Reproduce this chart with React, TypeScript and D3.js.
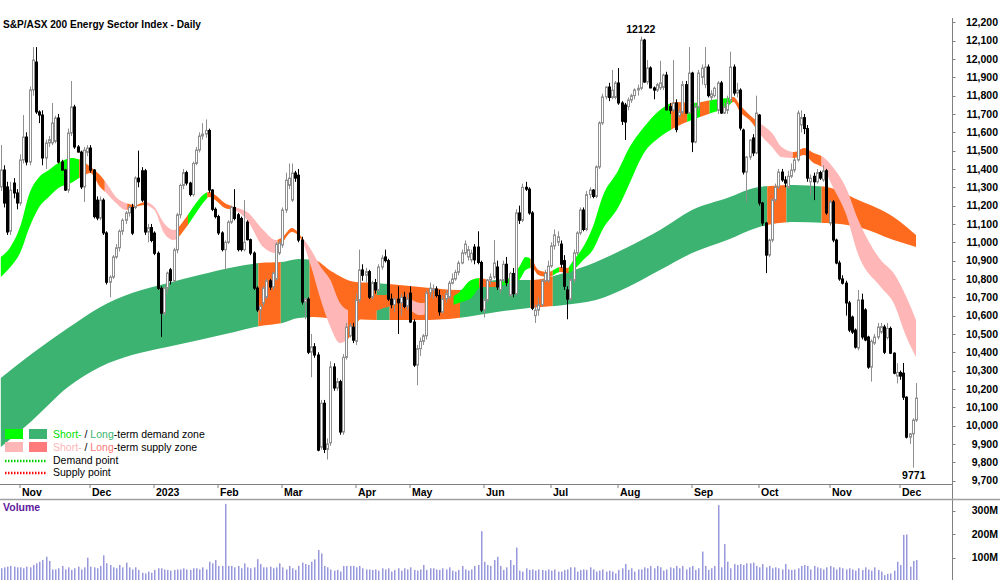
import * as d3 from "d3";
import React from "react";

// daily candles [open, high, low, close], one array per month
const oct22 = [
  [11302, 11531, 11280, 11394], [11394, 11420, 11190, 11214], [11302, 11330, 11040, 11056],
  [11060, 11330, 11040, 11285], [11323, 11350, 11240, 11269], [11269, 11290, 11180, 11214],
];
const nov22 = [
  [11214, 11480, 11200, 11449], [11449, 11694, 11430, 11574], [11574, 11600, 11420, 11438],
  [11438, 11850, 11420, 11831], [11831, 12065, 11800, 11994], [11983, 12065, 11700, 11711],
  [11711, 11720, 11650, 11694], [11694, 11720, 11420, 11460], [11460, 11560, 11400, 11542],
  [11542, 11580, 11520, 11560], [11542, 11760, 11530, 11651], [11550, 11690, 11540, 11678],
  [11678, 11700, 11430, 11438], [11438, 11450, 11390, 11394], [11394, 11400, 11280, 11285],
  [11285, 11620, 11270, 11596], [11596, 11880, 11580, 11738], [11738, 11750, 11510, 11520],
  [11520, 11530, 11490, 11492], [11492, 11500, 11290, 11302], [11302, 11520, 11220, 11503],
  [11490, 11530, 11470, 11514],
];
const dec22 = [
  [11514, 11530, 11380, 11394], [11394, 11400, 11130, 11140], [11230, 11250, 11120, 11132],
  [11132, 11250, 11120, 11230], [11230, 11240, 11040, 11051], [11051, 11060, 10770, 10782],
  [10782, 10820, 10700, 10810], [10810, 10930, 10800, 10920], [10920, 10990, 10910, 10970],
  [10970, 11070, 10950, 11060], [11060, 11130, 11040, 11120], [11120, 11170, 11100, 11160],
  [11160, 11200, 11140, 11190], [11190, 11210, 11040, 11050], [11190, 11360, 11180, 11350],
  [11350, 11500, 11300, 11330], [11390, 11410, 11220, 11230], [11390, 11400, 11040, 11056],
  [11056, 11100, 11000, 11080], [11080, 11100, 11000, 11010],
];
const jan23 = [
  [11050, 11060, 10930, 10940], [10940, 10950, 10740, 10749], [10749, 10760, 10483, 10613],
  [10613, 10760, 10600, 10749], [10749, 10840, 10720, 10832], [10850, 10860, 10770, 10790],
  [10790, 10970, 10780, 10958], [10958, 11160, 10940, 11150], [11150, 11320, 11130, 11310],
  [11310, 11400, 11290, 11380], [11380, 11390, 11310, 11323], [11323, 11330, 11250, 11260],
  [11260, 11440, 11250, 11430], [11430, 11520, 11420, 11503], [11503, 11600, 11490, 11580],
  [11580, 11650, 11560, 11590], [11590, 11670, 11570, 11610], [11610, 11620, 11270, 11285],
  [11285, 11290, 11170, 11180], [11180, 11190, 11130, 11140],
];
const feb23 = [
  [11140, 11150, 11040, 11051], [11051, 11060, 10950, 10960], [10960, 11010, 10850, 11000],
  [11000, 11120, 10990, 11110], [11110, 11200, 11100, 11190], [11190, 11290, 11120, 11130],
  [11150, 11160, 10950, 10960], [11130, 11140, 10950, 10960], [10960, 11230, 10950, 11000],
  [11110, 11120, 11010, 11014], [11014, 11020, 10930, 10941], [10941, 10950, 10740, 10750],
  [10750, 10760, 10620, 10631], [10631, 10660, 10570, 10650], [10668, 10760, 10650, 10750],
  [10700, 10800, 10690, 10790], [10790, 10800, 10740, 10756], [10756, 10840, 10740, 10832],
  [10800, 11000, 10790, 10990], [10941, 11010, 10930, 10996],
];
const mar23 = [
  [10985, 11190, 10970, 11176], [11176, 11380, 11160, 11339], [11310, 11430, 11290, 11350],
  [11230, 11430, 11220, 11378], [11378, 11390, 11330, 11350], [11366, 11400, 11000, 11012],
  [11012, 11030, 10660, 10674], [10674, 10700, 10580, 10690], [10690, 10700, 10390, 10400],
  [10400, 10500, 10264, 10430], [10430, 10450, 10370, 10385], [10385, 10400, 9860, 9866],
  [9882, 10140, 9870, 10122], [10122, 10140, 9850, 9870], [9870, 9930, 9815, 9900],
  [9906, 10350, 9890, 10320], [10320, 10340, 10190, 10205], [10205, 10260, 10190, 10240],
  [10240, 10250, 9950, 9965], [9965, 10390, 9950, 10372], [10372, 10560, 10360, 10537],
  [10490, 10560, 10480, 10545], [10537, 10560, 10450, 10466],
];
const apr23 = [
  [10460, 10720, 10440, 10686], [10686, 10960, 10670, 10849], [10849, 10880, 10790, 10820],
  [10820, 10860, 10780, 10840], [10840, 10850, 10690, 10700], [10700, 10790, 10690, 10780],
  [10780, 10800, 10720, 10740], [10740, 10880, 10730, 10865], [10865, 10930, 10850, 10914],
  [10920, 10960, 10890, 10900], [10900, 10910, 10680, 10690], [10690, 10720, 10640, 10660],
  [10660, 10700, 10620, 10690], [10690, 10760, 10500, 10670], [10670, 10720, 10600, 10700],
  [10700, 10730, 10640, 10650], [10650, 10720, 10630, 10690],
];
const may23 = [
  [10723, 10760, 10560, 10565], [10565, 10580, 10320, 10330], [10330, 10440, 10220, 10420],
  [10420, 10480, 10380, 10460], [10460, 10500, 10440, 10490], [10490, 10740, 10470, 10723],
  [10723, 10780, 10700, 10750], [10740, 10770, 10690, 10745], [10745, 10760, 10700, 10710],
  [10710, 10740, 10600, 10620], [10620, 10710, 10610, 10690], [10690, 10740, 10670, 10720],
  [10700, 10790, 10690, 10777], [10777, 10830, 10770, 10800], [10800, 10850, 10790, 10836],
  [10836, 10900, 10820, 10887], [10887, 10960, 10880, 10942], [10942, 11010, 10930, 10990],
  [10920, 10980, 10900, 10960], [10904, 10960, 10890, 10940], [10974, 10990, 10880, 10904],
  [10974, 11060, 10880, 10890], [10890, 10900, 10620, 10630],
];
const jun23 = [
  [10630, 10700, 10590, 10685], [10685, 10800, 10670, 10794], [10794, 10830, 10770, 10810],
  [10810, 11012, 10800, 10887], [10865, 10900, 10740, 10756], [10740, 10800, 10720, 10794],
  [10794, 10900, 10780, 10880], [10880, 10920, 10760, 10780], [10710, 10840, 10700, 10830],
  [10830, 10860, 10700, 10720], [10720, 11180, 10710, 11160], [11160, 11200, 11100, 11120],
  [11120, 11320, 11110, 11300], [11300, 11330, 11280, 11290], [11290, 11300, 11150, 11160],
  [11160, 11170, 10630, 10640], [10600, 10660, 10560, 10630], [10630, 10700, 10600, 10660],
  [10660, 10800, 10650, 10790], [10790, 10850, 10780, 10830], [10790, 10900, 10780, 10870],
];
const jul23 = [
  [10870, 11000, 10860, 10980], [10980, 11070, 10960, 11040], [11000, 11060, 10980, 11030],
  [10990, 11010, 10860, 10880], [10900, 10930, 10740, 10760], [10740, 10760, 10580, 10690],
  [10690, 10800, 10680, 10794], [10794, 10960, 10780, 10942], [10942, 11060, 10930, 11051],
  [11051, 11190, 11040, 11176], [11176, 11190, 11060, 11070], [11070, 11280, 11060, 11260],
  [11260, 11300, 11240, 11285], [11285, 11290, 11240, 11250], [11250, 11420, 11240, 11411],
  [11411, 11660, 11400, 11651], [11651, 11810, 11640, 11793], [11793, 11850, 11780, 11847],
  [11847, 11870, 11770, 11790], [11790, 11940, 11780, 11830], [11790, 11880, 11780, 11869],
];
const aug23 = [
  [11869, 11950, 11750, 11760], [11760, 11770, 11640, 11660], [11749, 11760, 11558, 11656],
  [11740, 11790, 11720, 11776], [11776, 11810, 11760, 11800], [11800, 11840, 11780, 11831],
  [11831, 11860, 11800, 11840], [11840, 12122, 11830, 12103], [12103, 12110, 11870, 11874],
  [11874, 11994, 11860, 11951], [11951, 11960, 11840, 11842], [11842, 11850, 11780, 11830],
  [11830, 11870, 11820, 11860], [11842, 11990, 11830, 11870], [11845, 11920, 11830, 11912],
  [11912, 11930, 11720, 11722], [11740, 11760, 11700, 11720], [11722, 11994, 11710, 11760],
  [11760, 11780, 11600, 11615], [11690, 11730, 11680, 11711], [11711, 11880, 11700, 11860],
  [11860, 11880, 11700, 11705], [11705, 12065, 11700, 11923],
];
const sep23 = [
  [11923, 11930, 11492, 11547], [11547, 11760, 11540, 11738], [11738, 11940, 11720, 11923],
  [11900, 11970, 11860, 11950], [11860, 12065, 11840, 11956], [11956, 11970, 11790, 11800],
  [11790, 11830, 11770, 11810], [11800, 11850, 11790, 11840], [11720, 11880, 11700, 11869],
  [11869, 11880, 11700, 11705], [11705, 11760, 11700, 11738], [11720, 11800, 11700, 11760],
  [11776, 12040, 11760, 11956], [11956, 11970, 11800, 11814], [11814, 11870, 11790, 11830],
  [11830, 11840, 11610, 11623], [11612, 11620, 11370, 11383], [11383, 11470, 11220, 11465],
  [11465, 11560, 11450, 11558], [11569, 11590, 11470, 11487], [11487, 11800, 11480, 11705],
];
const oct23 = [
  [11694, 11700, 11200, 11214], [11214, 11220, 11090, 11105], [11105, 11110, 10832, 10930],
  [10930, 11020, 10920, 11012], [11012, 11240, 11000, 11231], [11231, 11320, 11220, 11302],
  [11302, 11400, 11290, 11383], [11383, 11400, 11330, 11340], [11340, 11360, 11300, 11323],
  [11300, 11390, 11290, 11360], [11360, 11430, 11350, 11394], [11394, 11460, 11380, 11449],
  [11449, 11720, 11440, 11705], [11640, 11720, 11600, 11680], [11680, 11700, 11590, 11620],
  [11620, 11640, 11330, 11350], [11330, 11370, 11260, 11350], [11360, 11380, 11230, 11330],
  [11330, 11400, 11320, 11380], [11380, 11390, 11340, 11350], [11340, 11420, 11330, 11390],
  [11390, 11400, 11150, 11160],
];
const nov23 = [
  [11105, 11231, 11090, 11220], [11220, 11230, 11000, 11012], [11012, 11020, 10880, 10887],
  [10887, 10900, 10790, 10800], [10800, 10820, 10770, 10777], [10777, 10790, 10600, 10669],
  [10669, 10680, 10510, 10521], [10592, 10600, 10500, 10510], [10521, 10530, 10420, 10428],
  [10423, 10740, 10410, 10685], [10685, 10720, 10470, 10483], [10631, 10640, 10460, 10467],
  [10483, 10490, 10310, 10319], [10319, 10470, 10240, 10460], [10450, 10500, 10440, 10483],
  [10483, 10560, 10470, 10538], [10510, 10560, 10500, 10540], [10538, 10550, 10390, 10400],
  [10480, 10560, 10470, 10530], [10530, 10540, 10390, 10395], [10395, 10400, 10280, 10286],
  [10270, 10340, 10230, 10290],
];
const dec23 = [
  [10290, 10300, 10250, 10270], [10286, 10342, 10140, 10155], [10155, 10160, 9930, 9937],
  [9937, 9960, 9900, 9955], [9955, 10040, 9771, 10030], [10030, 10232, 10020, 10150],
];

// daily volume, millions
const volumeM = [
  55, 59, 62, 65, 62, 59,
  59, 55, 62, 59, 69, 76, 83, 90, 104, 86,
  50, 50, 55, 65, 50, 59, 48, 55, 62, 50, 59, 100,
  62, 59, 55, 65, 110, 76, 69, 59, 55, 69, 59, 79, 59, 50,
  59, 48, 36, 33, 41, 36, 48, 55, 55, 50, 48, 45, 48, 50,
  50, 55, 50, 48, 55, 55, 50, 59, 50, 83, 76, 90, 65, 65,
  329,
  65, 65, 59, 65, 55, 76, 59, 55, 59, 94, 73, 59, 59,
  62, 55, 59, 76, 59, 50, 65, 55, 48, 65,
  79, 73, 69, 83, 93, 133, 118, 65, 59, 50, 45,
  48, 41, 65, 65, 65, 65, 59, 65, 55, 50,
  50, 48, 50, 45, 55, 50, 55, 41, 48, 55, 45,
  55, 50, 59, 48, 45, 50, 69, 48, 55, 55,
  50, 48, 55, 50, 59, 45, 41, 48, 65, 50, 45, 50, 65, 69,
  213,
  83, 69, 65, 90, 104, 65, 48, 59, 90, 69,
  143,
  45, 41, 55, 48, 50, 45, 50, 48, 45, 50, 45,
  50, 41, 41, 48, 50, 59, 59, 41, 48, 50, 48,
  59, 50, 41, 45, 50, 41, 45, 41, 33, 48,
  55, 73, 48, 55, 41, 50, 50, 59, 55, 65, 55,
  65, 59, 45, 50, 59, 55, 65, 55, 65, 50, 59, 65,
  48, 55, 126, 65, 48, 55, 65, 324, 59, 158,
  83, 55, 73, 69, 73, 69, 76, 76, 79, 65, 59, 73, 59,
  65, 55, 59, 55, 50, 73, 50, 48, 50, 55,
  65, 69, 65, 50, 65, 59, 55, 50, 59, 65, 59,
  50, 59, 55, 50, 55, 50, 45, 55, 48, 59,
  50, 45, 59, 48, 41, 26, 31, 33, 45,
  83, 69, 197, 199, 62, 86, 90,
];

const monthStart = [6, 28, 48, 68, 88, 111, 128, 151, 172, 193, 216, 237, 259, 281];
const monthLabel = ["Nov", "Dec", "2023", "Feb", "Mar", "Apr", "May", "Jun", "Jul", "Aug", "Sep", "Oct", "Nov", "Dec"];
const volTicks = [100, 200, 300];

// ribbon edges [bar, edge a, edge b]
const longBand = [
  [0, 10260, 9883], [10, 10396, 10031], [21, 10532, 10210], [31, 10646, 10320], [41, 10723, 10385],
  [52, 10777, 10429], [62, 10821, 10467], [73, 10865, 10510], [81, 10887, 10543], [88, 10893, 10560],
  [93, 10909, 10587], [98, 10903, 10592], [103, 10845, 10585], [111, 10783, 10580], [118, 10777, 10576],
  [131, 10756, 10576], [143, 10740, 10587], [155, 10794, 10620], [165, 10794, 10641], [176, 10832, 10658],
  [186, 10893, 10685], [196, 10974, 10756], [206, 11067, 10849], [216, 11176, 10941], [227, 11242, 11012],
  [237, 11302, 11083], [248, 11313, 11110], [258, 11302, 11105], [268, 11231, 11083], [279, 11138, 11012],
  [286, 11040, 10974],
];
const shortBand = [
  [0, 10920, 10811], [3, 10974, 10865], [6, 11083, 10941], [9, 11269, 11083], [12, 11356, 11192],
  [15, 11394, 11247], [18, 11432, 11296], [22, 11460, 11323], [25, 11449, 11356], [28, 11411, 11378],
  [31, 11367, 11302], [33, 11323, 11269], [36, 11247, 11214], [39, 11214, 11176], [42, 11203, 11192],
  [45, 11220, 11203], [48, 11192, 11176], [51, 11105, 11051], [54, 11067, 11012], [58, 11138, 11083],
  [61, 11214, 11160], [64, 11269, 11231], [65, 11274, 11247], [67, 11258, 11231], [70, 11214, 11187],
  [73, 11192, 11176], [77, 11165, 11121], [82, 11067, 10974], [86, 11012, 10941], [88, 11029, 10996],
  [91, 11078, 11056], [94, 11029, 11012], [97, 10958, 10865], [100, 10865, 10685], [103, 10794, 10538],
  [106, 10669, 10450], [109, 10630, 10483], [112, 10685, 10576], [118, 10712, 10630], [125, 10712, 10658],
  [131, 10669, 10603], [137, 10685, 10631], [143, 10723, 10669], [147, 10794, 10696], [150, 10805, 10756],
  [154, 10783, 10756], [159, 10805, 10777], [162, 10865, 10794], [164, 10920, 10849], [166, 10903, 10860],
  [168, 10849, 10821], [171, 10838, 10810], [175, 10865, 10838], [177, 10860, 10832], [179, 10903, 10849],
  [182, 10974, 10903], [185, 11083, 10958], [188, 11247, 11067], [193, 11394, 11192], [196, 11503, 11302],
  [201, 11629, 11487], [206, 11722, 11574], [211, 11765, 11629], [216, 11760, 11667], [222, 11776, 11705],
  [227, 11787, 11738], [229, 11793, 11765], [231, 11749, 11711], [234, 11694, 11667], [238, 11640, 11574],
  [241, 11596, 11520], [244, 11520, 11465], [248, 11492, 11460], [251, 11514, 11476], [254, 11487, 11432],
  [257, 11465, 11405], [260, 11411, 11302], [264, 11302, 11160], [268, 11120, 10930], [275, 10903, 10756],
  [279, 10832, 10669], [283, 10701, 10483], [286, 10576, 10374],
];

// colour runs [first bar, zone]: g/G demand, p supply, o overlap
const longZones: [number, string][] = [
  [0, "G"], [81, "o"], [88, "G"], [97, "o"], [118, "G"], [122, "o"], [144, "G"], [166, "o"],
  [173, "G"], [240, "o"], [246, "G"], [257, "o"],
];
const shortZones: [number, string][] = [
  [0, "g"], [25, "o"], [33, "p"], [40, "o"], [46, "p"], [56, "o"], [59, "g"], [65, "o"], [73, "p"],
  [87, "o"], [95, "p"], [109, "o"], [128, "p"], [133, "o"], [142, "g"], [150, "o"], [157, "g"],
  [166, "o"], [173, "g"], [175, "o"], [178, "g"], [210, "o"], [215, "g"], [219, "o"], [222, "g"],
  [229, "o"], [237, "p"], [248, "o"], [257, "p"],
];

const COL: Record<string, string> = {
  g: "#00ff00",
  G: "#3cb371",
  p: "#ffb6b6",
  o: "#ff6b1e",
};

const candles = [oct22, nov22, dec22, jan23, feb23, mar23, apr23, may23, jun23, jul23, aug23, sep23, oct23, nov23, dec23].flat();

const FONT = "'Liberation Sans', Arial, Helvetica, sans-serif";

export default function App() {
  const n = candles.length;
  const x = d3.scaleLinear().domain([0, n - 1]).range([0.8, 916]);
  const y = d3.scaleLinear().domain([9700, 12200]).range([480.6, 22.3]);
  const yv = d3.scaleLinear().domain([0, 300]).range([581.2, 510.7]);
  const px = (i: number) => Math.round(x(i)) + 0.5;

  const area = d3
    .area<number[]>()
    .x((d) => x(d[0]))
    .y0((d) => y(d[1]))
    .y1((d) => y(d[2]))
    .curve(d3.curveMonotoneX);

  const runs = (zones: [number, string][], key: string) =>
    zones.map(([s, k], j) => {
      const e = j < zones.length - 1 ? zones[j + 1][0] : n;
      return { id: key + j, x0: x(s) - 1.6, x1: x(e) - 1.6, color: COL[k] };
    });
  const longRuns = runs(longZones, "lz");
  const shortRuns = runs(shortZones, "sz");
  const longPath = area(longBand) || "";
  const shortPath = area(shortBand) || "";

  const hiIdx = d3.maxIndex(candles, (d) => d[1]);
  const loIdx = d3.minIndex(candles, (d) => d[2]);
  const fmt = d3.format(",");
  const axisX = 952.5;

  return (
    <svg
      width={1000}
      height={580}
      style={{ position: "absolute", left: 0, top: 0, background: "#fff", fontFamily: FONT }}
    >
      <defs>
        {[...longRuns, ...shortRuns].map((r) => (
          <clipPath id={r.id} key={r.id}>
            <rect x={r.x0} y={0} width={r.x1 - r.x0} height={500} />
          </clipPath>
        ))}
      </defs>

      {longRuns.map((r) => (
        <path key={r.id} d={longPath} fill={r.color} clipPath={`url(#${r.id})`} />
      ))}
      {shortRuns.map((r) => (
        <path key={r.id} d={shortPath} fill={r.color} clipPath={`url(#${r.id})`} />
      ))}

      {/* candles */}
      {candles.map(([o, h, l, c], i) => {
        const up = c >= o;
        const cx = px(i);
        const top = y(Math.max(o, c));
        const bot = y(Math.min(o, c));
        return (
          <g key={i}>
            <line x1={cx} x2={cx} y1={y(h)} y2={y(l)} stroke={up ? "#8f8f8f" : "#000"} strokeWidth={1} />
            <rect
              x={cx - 1}
              y={top}
              width={2}
              height={Math.max(bot - top, 0.8)}
              fill={up ? "#fff" : "#000"}
              stroke={up ? "#8f8f8f" : "#000"}
              strokeWidth={1}
            />
          </g>
        );
      })}

      {/* high / low marks */}
      <text x={x(hiIdx)} y={y(candles[hiIdx][1]) - 4} textAnchor="middle" fontSize={10.5} fontWeight="bold">
        {candles[hiIdx][1]}
      </text>
      <text x={x(loIdx) + 1} y={y(candles[loIdx][2]) + 11} textAnchor="middle" fontSize={10.5} fontWeight="bold">
        {candles[loIdx][2]}
      </text>

      <text x={3} y={28} fontSize={10.5} fontWeight="bold" textLength={198} lengthAdjust="spacingAndGlyphs">
        S&amp;P/ASX 200 Energy Sector Index - Daily
      </text>

      {/* legend */}
      <g fontSize={10.5}>
        <rect x={5} y={429} width={18} height={10} fill={COL.g} />
        <rect x={29} y={429} width={18} height={10} fill={COL.G} />
        <rect x={5} y={442} width={18} height={10} fill={COL.p} />
        <rect x={29} y={442} width={18} height={10} fill="#ff7b7b" />
        <line x1={5} x2={46} y1={461} y2={461} stroke="#00d000" strokeWidth={2.5} strokeDasharray="1.5 1.5" />
        <line x1={5} x2={46} y1={473} y2={473} stroke="#ff0000" strokeWidth={2.5} strokeDasharray="1.5 1.5" />
        <text x={53} y={438}>
          <tspan fill="#00e000">Short-</tspan>
          <tspan> / </tspan>
          <tspan fill={COL.G}>Long</tspan>
          <tspan>-term demand zone</tspan>
        </text>
        <text x={53} y={451}>
          <tspan fill={COL.p}>Short-</tspan>
          <tspan> / </tspan>
          <tspan fill="#ff7b7b">Long</tspan>
          <tspan>-term supply zone</tspan>
        </text>
        <text x={53} y={464}>Demand point</text>
        <text x={53} y={476}>Supply point</text>
      </g>

      {/* price axis */}
      <line x1={axisX} x2={axisX} y1={18} y2={580} stroke="#808080" />
      {y.ticks(25).map((t) => (
        <g key={t}>
          <line x1={axisX} x2={axisX + 3} y1={Math.round(y(t)) + 0.5} y2={Math.round(y(t)) + 0.5} stroke="#808080" />
          <text x={998} y={y(t) + 3.6} textAnchor="end" fontSize={10.5} fontWeight="bold">
            {fmt(t)}
          </text>
        </g>
      ))}

      {/* time axis */}
      <line x1={0} x2={axisX} y1={484.5} y2={484.5} stroke="#808080" />
      <line x1={0} x2={1000} y1={499.5} y2={499.5} stroke="#a0a0a0" strokeWidth={1.5} />
      {monthStart.map((s, j) => (
        <g key={j}>
          <line x1={px(s) - 0.5} x2={px(s) - 0.5} y1={484.5} y2={488} stroke="#808080" />
          <text x={px(s) + 1.5} y={496} fontSize={10.5} fontWeight="bold">
            {monthLabel[j]}
          </text>
        </g>
      ))}

      {/* volume */}
      <text x={3} y={511} fontSize={10.5} fontWeight="bold" fill="#5e1a9e">
        Volume
      </text>
      {volumeM.map((v, i) => (
        <rect key={i} x={px(i) - 0.5} y={yv(v)} width={1.5} height={yv(0) - yv(v)} fill="#9898dc" />
      ))}
      {volTicks.map((t) => (
        <g key={t}>
          <line x1={axisX} x2={axisX + 3} y1={Math.round(yv(t)) + 0.5} y2={Math.round(yv(t)) + 0.5} stroke="#808080" />
          <text x={998} y={yv(t) + 3.6} textAnchor="end" fontSize={10.5} fontWeight="bold">
            {t}M
          </text>
        </g>
      ))}
    </svg>
  );
}
